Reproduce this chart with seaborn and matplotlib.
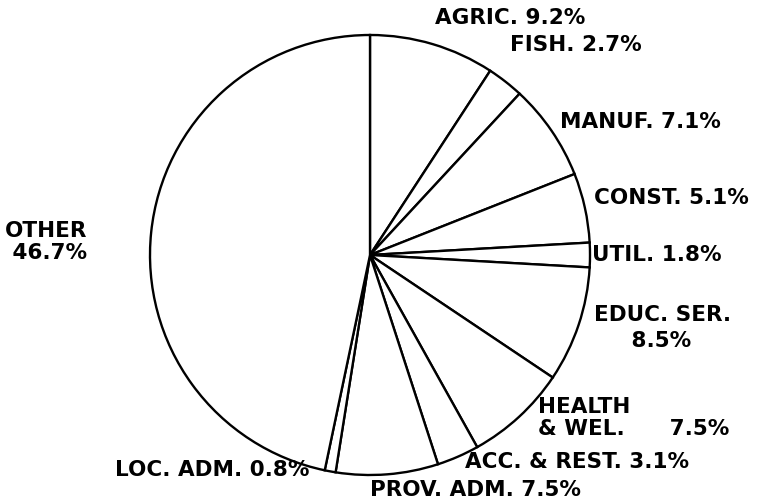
import matplotlib.pyplot as plt
import seaborn as sns

sns.set_theme(style="white")
plt.rcParams['font.family'] = ['DejaVu Sans']

sectors = ["AGRIC.", "FISH.", "MANUF.", "CONST.", "UTIL.", "EDUC. SER.",
           "HEALTH & WEL.", "ACC. & REST.", "PROV. ADM.", "LOC. ADM.", "OTHER"]
shares = [9.2, 2.7, 7.1, 5.1, 1.8, 8.5, 7.5, 3.1, 7.5, 0.8, 46.7]

# label texts as printed on the chart
label_texts = ["AGRIC. 9.2%", "FISH. 2.7%", "MANUF. 7.1%", "CONST. 5.1%",
               "UTIL. 1.8%", "EDUC. SER.\n     8.5%", "HEALTH\n& WEL.      7.5%",
               "ACC. & REST. 3.1%", "PROV. ADM. 7.5%", "LOC. ADM. 0.8%",
               "OTHER\n 46.7%"]

W, H = 768, 504
cx, cy, R = 370, 255, 220

fig = plt.figure(figsize=(W / 100, H / 100), dpi=100)
ax = fig.add_axes([0, 0, 1, 1])

ax.pie(shares, startangle=90, counterclock=False, radius=1,
       colors=["white"] * len(shares),
       wedgeprops=dict(edgecolor="black", linewidth=1.7))

def px(x, y):
    return (x - cx) / R, (cy - y) / R

# pixel anchors (left edge, vertical centre) for each label
label_pos = [(435, 18), (510, 45), (560, 122), (594, 198), (592, 255),
             (594, 328), (538, 418), (465, 462), (370, 490), (115, 470),
             (5, 242)]

for txt, (x, y) in zip(label_texts, label_pos):
    tx, ty = px(x, y)
    ls = 1.4 if txt.startswith("EDUC") else 1.1
    ax.text(tx, ty, txt, ha="left", va="center", fontsize=15.5,
            fontweight="bold", color="black", linespacing=ls)

ax.set_xlim(-cx / R, (W - cx) / R)
ax.set_ylim(-(H - cy) / R, cy / R)
ax.set_aspect("equal")
ax.axis("off")

fig.savefig("out.png", dpi=100, facecolor="white")
